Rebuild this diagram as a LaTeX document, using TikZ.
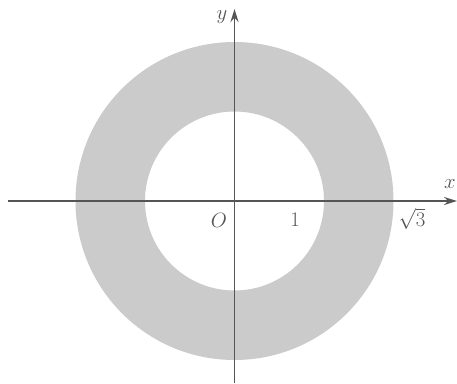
\documentclass[tikz,border=0pt]{standalone}
\usetikzlibrary{arrows.meta}
\definecolor{ringgray}{HTML}{CBCBCB}
\definecolor{axisgray}{HTML}{555555}
\begin{document}
\begin{tikzpicture}[x=1pt,y=-1pt,
  axis/.style={draw=axisgray,line width=1.9pt,-{Stealth[length=13pt,width=8pt]}},
  lab/.style={inner sep=0pt,text=axisgray,font=\fontsize{21}{24}\selectfont}]
\useasboundingbox (0,0) rectangle (457,383);
\coordinate (O) at (234.5,201);
\fill[ringgray,even odd rule] (O) circle[radius=159] (O) circle[radius=89.5];
\coordinate (xs) at (8,201);
\coordinate (xe) at (457,201);
\coordinate (ys) at (234.5,383);
\coordinate (ye) at (234.5,9);
\draw[axis] (xs) -- (xe);
\draw[axis] (ys) -- (ye);
\node[lab] (xl) at (450,184) {$x$};
\node[lab] (yl) at (222,17) {$y$};
\node[lab] (ol) at (219,220) {$O$};
\node[lab] (one) at (295,220) {$1$};
\node[lab] (sq) at (412,219) {$\sqrt{3}$};
\end{tikzpicture}
\end{document}
